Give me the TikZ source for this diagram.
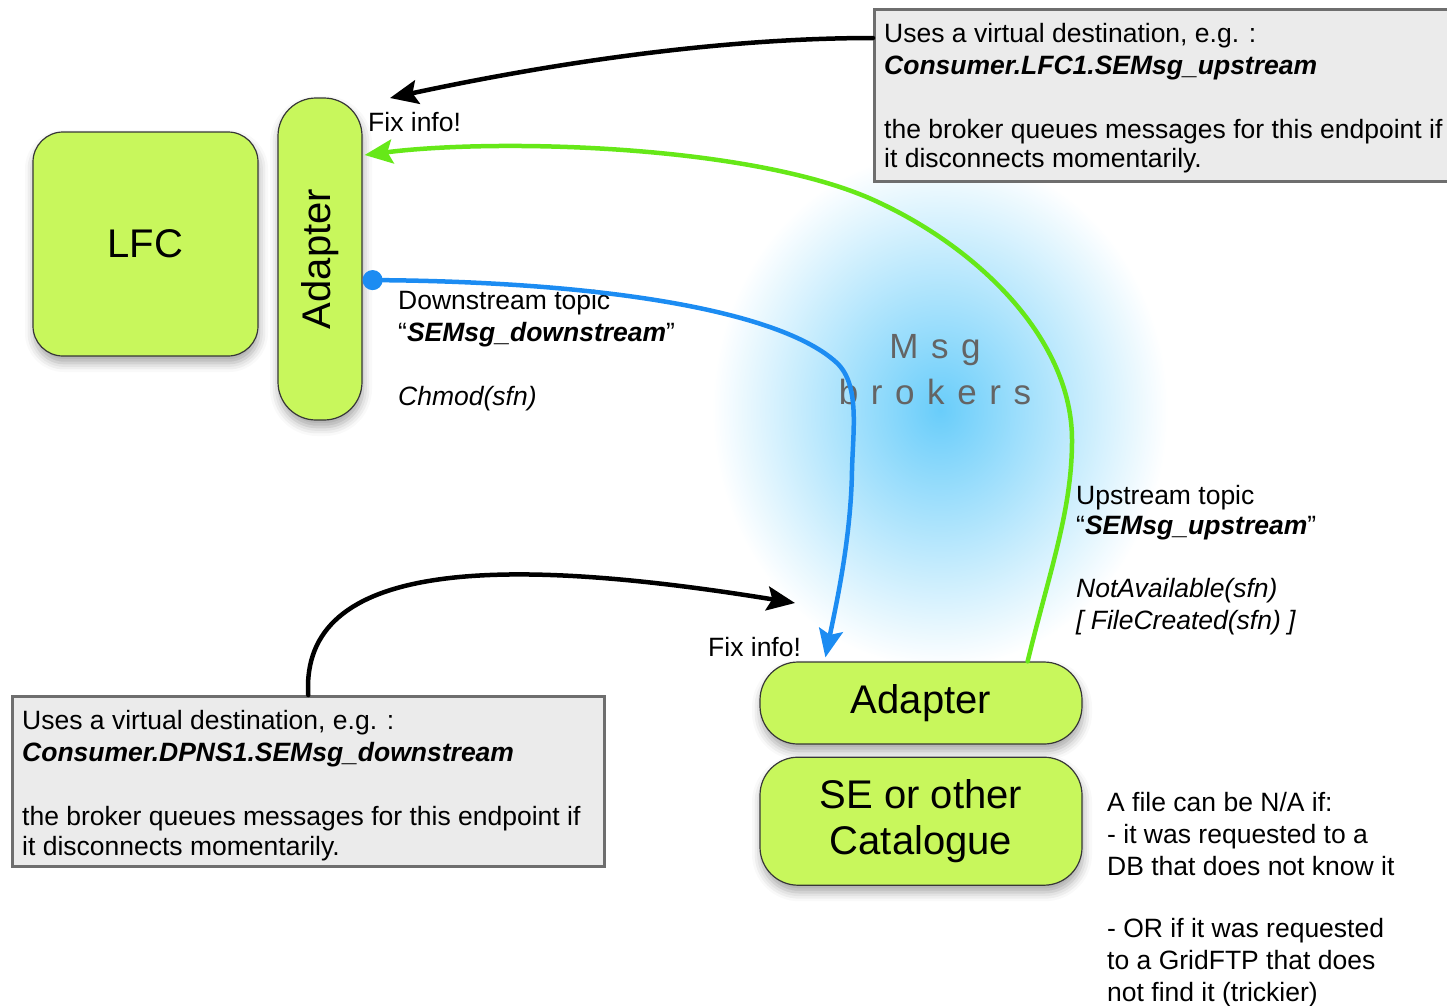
\documentclass[tikz,border=0pt]{standalone}
\usepackage{fontspec}
\setmainfont{Liberation Sans}
\usetikzlibrary{arrows.meta}
\usetikzlibrary{positioning}
\usetikzlibrary{calc,shadows.blur}

\definecolor{limefill}{RGB}{200,247,92}
\definecolor{boxedge}{RGB}{55,55,55}
\definecolor{notefill}{RGB}{235,235,235}
\definecolor{noteedge}{RGB}{110,110,110}
\definecolor{upgreen}{RGB}{102,232,24}
\definecolor{downblue}{RGB}{28,140,242}
\definecolor{glowblue}{RGB}{105,205,250}
\definecolor{brokergray}{RGB}{100,100,100}

\tikzset{
  comp/.style={draw=boxedge, line width=1.2pt, fill=limefill, align=center,
    font=\fontsize{40}{46}\selectfont, inner sep=0pt,
    blur shadow={shadow xshift=1pt, shadow yshift=-7pt, shadow blur radius=9pt, shadow opacity=35}},
  notebox/.style={draw=noteedge, line width=2.5pt, fill=notefill, inner sep=0pt},
  labeltext/.style={font=\fontsize{26.5}{32}\selectfont, align=left, inner sep=0pt},
  flow/.style={line width=4.5pt, line cap=round, -{Stealth[length=28pt,width=24pt,inset=5pt]}},
}

\begin{document}
\begin{tikzpicture}[x=1pt, y=-1pt]
\useasboundingbox (0,0) rectangle (1447,1005);
\clip (0,0) rectangle (1447,1005);

% the broker cloud
\shade[inner color=glowblue, outer color=white] (940,410) ellipse (228 and 258);

\node[comp, rounded corners=30pt, minimum width=225pt, minimum height=224pt] (lfc) at (145.5,244) {LFC};
\node[comp, rounded corners=38pt, minimum width=84pt, minimum height=322pt] (ladapt) at (320,259) {\rotatebox{90}{Adapter}};
\node[comp, rounded corners=38pt, minimum width=322pt, minimum height=82pt] (badapt) at (921,703) {Adapter};
\node[comp, rounded corners=38pt, minimum width=322pt, minimum height=128pt, below=12pt of badapt] (se) {SE or other\\Catalogue};

\node[font=\fontsize{35}{46}\selectfont\addfontfeature{LetterSpace=36}, text=brokergray, align=center] (msg) at (935,370) {Msg\\brokers};

% notes
\node[notebox, anchor=north west, minimum width=600pt, minimum height=172pt] (tnote) at (873,8) {};
\node[labeltext, anchor=north west] (ttext) at ($(tnote.north west)+(11,15)$)
  {Uses a virtual destination, e.g. :\\
   \textbf{\textit{Consumer.LFC1.SEMsg\_upstream}}\\[32pt]
   the broker queues messages for this endpoint if\\[-3pt]
   it disconnects momentarily.};
\node[notebox, anchor=north west, minimum width=592pt, minimum height=170pt] (bnote) at (11,695) {};
\node[labeltext, anchor=north west] (btext) at ($(bnote.north west)+(11,15)$)
  {Uses a virtual destination, e.g. :\\
   \textbf{\textit{Consumer.DPNS1.SEMsg\_downstream}}\\[32pt]
   the broker queues messages for this endpoint if\\[-2pt]
   it disconnects momentarily.};

% labels
\node[labeltext, anchor=north west] (fixa) at (368,112) {Fix info!};
\node[labeltext, anchor=north west] (fixb) at (708,637) {Fix info!};
\node[labeltext, anchor=north west] (down) at (398,290)
  {Downstream topic\\
   ``\textbf{\textit{SEMsg\_downstream}}''\\[32pt]
   \textit{Chmod(sfn)}};
\node[labeltext, anchor=north west] (up) at (1076,485)
  {Upstream topic\\[-2pt]
   ``\textbf{\textit{SEMsg\_upstream}}''\\[31pt]
   \textit{NotAvailable(sfn)}\\
   \textit{[ FileCreated(sfn) ]}};
\node[labeltext, anchor=north west] (na) at (1107,792)
  {A file can be N/A if:\\
   - it was requested to a\\
   DB that does not know it\\[30pt]
   - OR if it was requested\\
   to a GridFTP that does\\
   not find it (trickier)};

% connectors
\coordinate (ftip) at (390,98);
\coordinate (btip) at (795,603);
\draw[flow, black] ($(tnote.north west)+(0,30)$) .. controls (700,38) and (520,70) .. (ftip);
\draw[flow, black] (bnote.north) .. controls (300,560) and (500,555) .. (btip);
\draw[flow, upgreen] ($(badapt.north east)+(-55,0)$)
  .. controls (1050,570) and (1072,510) .. (1072,440)
  .. controls (1072,340) and (980,250) .. (880,203)
  .. controls (760,145) and (500,138) .. ($(ladapt.east)+(2,-104)$);
\draw[flow, downblue, {Circle[length=20pt]}-{Stealth[length=28pt,width=24pt,inset=5pt]}] ($(ladapt.east)+(0,21)$)
  .. controls (600,282) and (780,310) .. (837,363)
  .. controls (860,385) and (853,430) .. (852,470)
  .. controls (851,540) and (835,610) .. ($(badapt.north west)+(66,-4)$);
\end{tikzpicture}
\end{document}
